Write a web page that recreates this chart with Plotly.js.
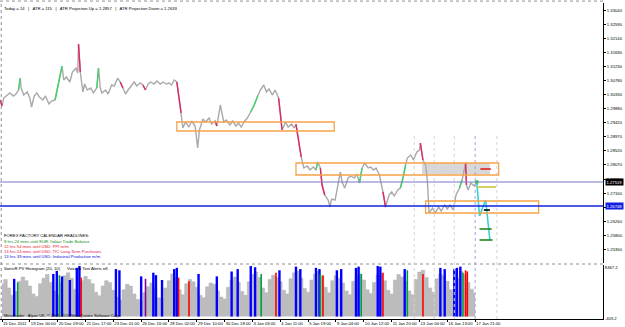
<!DOCTYPE html>
<html><head><meta charset="utf-8">
<script src="https://cdn.plot.ly/plotly-3.0.1.min.js"></script>
<style>html,body{margin:0;padding:0;background:#fff}#chart{width:625px;height:327px}</style>
</head><body><div id="chart"></div>
<script>
// ---- data (bar index = hourly bar number) ----
const priceIdx = [-2,0,2,6,9,13,16,19,21,22,25,29,32,34,37,40,43,47,50,54,57,61,64,66,69,71,74,78,81,85,87,88,89,90,93,95,98,102,105,109,111,113,115,119,122,126,129,133,136,139,142,145,149,152,155,159,162,165,168,171,175,178,182,185,189,192,195,198,201,203,206,208,211,215,218,222,225,227,231,234,238,241,245,247,251,255,258,262,265,269,272,275,279,282,286,290,294,297,301,304,307,311,314,318,320,322,326,329,333,336,338,341,344,347,351,354,358,361,363,366,368,371,375,377,379,383,386,389,391,394,398,401,405,408,411,414,417,421,424,427,430,434,438,441,445,448,451,455,458,461,464,466,470,473,477,480,481,484,487,489,491,495,498,502,505,509,512,515,519,522,526,529,533,534,536,539,543,546];
const priceClose = [1.30151,1.29958,1.30215,1.30311,1.30376,1.30280,1.30344,1.30472,1.30857,1.30536,1.30311,1.30408,1.30215,1.29926,1.30280,1.30376,1.30247,1.30151,1.30280,1.30022,1.30119,1.30151,1.30536,1.30793,1.31242,1.30793,1.30890,1.30729,1.31050,1.31178,1.31018,1.31949,1.31435,1.31050,1.30408,1.30665,1.30472,1.30536,1.30376,1.30536,1.31178,1.30536,1.30376,1.30472,1.30344,1.30633,1.30601,1.30857,1.30729,1.30536,1.30344,1.30472,1.30601,1.30729,1.30601,1.30697,1.30633,1.30472,1.30665,1.30729,1.30665,1.30761,1.30665,1.30729,1.30665,1.30697,1.30633,1.30793,1.30729,1.30311,1.29734,1.29252,1.29445,1.29284,1.29477,1.29316,1.28610,1.29188,1.29541,1.29445,1.29573,1.29380,1.29477,1.29316,1.29991,1.29445,1.29509,1.29348,1.29477,1.29316,1.29413,1.29284,1.29477,1.29573,1.29766,1.29991,1.30280,1.30472,1.30633,1.30408,1.30504,1.30311,1.30472,1.30215,1.29766,1.29188,1.29445,1.29284,1.29380,1.29252,1.29380,1.28771,1.28321,1.27968,1.28032,1.27904,1.28000,1.27904,1.28161,1.27968,1.27422,1.27101,1.26941,1.26716,1.26973,1.26941,1.27422,1.27840,1.27519,1.27326,1.27647,1.27711,1.27647,1.27775,1.27487,1.27968,1.28129,1.27968,1.28000,1.27904,1.27968,1.27743,1.27198,1.26716,1.27101,1.27198,1.27069,1.27262,1.27326,1.27647,1.28064,1.28289,1.28386,1.28225,1.28482,1.28546,1.28771,1.28225,1.28064,1.27583,1.26523,1.26684,1.26523,1.26716,1.26588,1.26780,1.26652,1.26780,1.26620,1.27101,1.27326,1.27583,1.28129,1.27422,1.27262,1.27487,1.27390,1.27519];
const greenSegs = [[19,21],[61,69],[109,111],[196,198],[286,294],[361,363],[411,414],[458,464],[526,529]];
const redSegs = [[-2,0],[88,90],[136,139],[162,165],[201,206],[245,247],[316,322],[338,344],[366,371],[436,441],[481,484],[533,534]];
const projIdx = [546,549,556,561];
const projPrice = [1.27487,1.26427,1.26941,1.25657];
const bidPrice = 1.27519;
const pivotPrice = 1.26748;
const boxStart = [201,338,487];
const boxEnd = [382,571,617];
const boxTop = [1.29445,1.28129,1.26909];
const boxBottom = [1.29156,1.27743,1.26523];
const zoneStart = 483, zoneEnd = 561, zoneTop = 1.28129, zoneBottom = 1.27775;
const levelStart = [550,546,554,549,549];
const levelEnd = [562,568,561,563,564];
const levelPrice = [1.27936,1.27358,1.26620,1.26010,1.25657];
const sessionIdx = [474,497,520,544,569];
const priceTicks = ['1.33040','1.32590','1.32140','1.31690','1.31230','1.30780','1.30330','1.29880','1.29420','1.28970','1.28520','1.28070','1.27610','1.27160','1.26710','1.26260','1.25800','1.25350','1.24900'];
const timeTickIdx = [0,32,64,96,128,160,192,224,256,288,320,352,384,416,448,480,512,544];
const timeTickText = ['15 Dec 2011','19 Dec 00:00','20 Dec 09:00','21 Dec 17:00','23 Dec 01:00','26 Dec 16:00','28 Dec 02:00','29 Dec 10:00','30 Dec 18:00','3 Jan 03:00','4 Jan 11:00','5 Jan 19:00','9 Jan 04:00','10 Jan 12:00','11 Jan 20:00','13 Jan 04:00','16 Jan 13:00','17 Jan 21:00'];
const volHeights = [5400,6100,4700,3500,4100,5800, 6500,5900,5000,3700,3300,5400, 6300,6900,5600,4200,3500,5600, 6700,7200,6300,4500,3800,5900, 6600,6100,5400,4000,3400,5000, 5900,5600,4300,3200,2700,4400, 5300,5000,3700,2800,2500,3900, 4900,5500,4700,3100,2900,4700, 5900,7000,6400,4400,3600,5400, 6100,5700,4800,3500,3100,4900, 5500,5300,4200,3200,2900,4800, 6000,6500,5600,4100,3500,5700, 6900,7300,6400,4700,3900,6100, 6800,6400,5700,4300,3700,6200, 7200,7500,6300,4600,4000,6000, 7000,7400,6600,4800,3900,5900, 6700,6300,5500,4200,3600,5800, 6600,7000,6000,4400,3800,5600, 6800,7100,5900,4300,3700,6000, 6900,6500,5700,4200,3600,6100, 7300,7600,6400,4700,4000,6200, 7000,6700,5800,4400,3900,6300, 7400,6900,5600,4500,3800];
const signalIdx = [14,18,59,63,66,69,78,86,89,91,131,135,160,165,174,177,184,198,201,203,215,226,247,264,271,286,291,298,315,319,338,343,361,365,366,369,385,390,407,410,413,432,435,438,463,466,484,504,509,520,523,527,530,533,535];
const signalVol = [6200,5600,7000,7500,6800,6600,6000,8000,8300,6400,7800,7600,6600,6200,7200,6800,6000,7800,8000,6400,5800,7000,6600,7400,7800,8300,8100,7000,7200,7600,8200,7800,8000,7800,7000,6800,7600,7800,8000,8200,7000,8300,8200,7200,7800,7600,7000,8000,7800,7800,8000,8200,7200,7600,7400];
const signalKind = ['b','g','b','b','g','b','b','b','b','r','b','b','b','p','b','b','b','b','b','r','r','b','b','b','b','b','b','g','r','b','b','b','b','b','g','r','b','b','b','b','g','b','b','r','b','g','r','b','b','b','b','b','g','r','r'];

// ---- build ----
const FONT = 'Liberation Sans, Arial, sans-serif';
const traces = [];
const histIdx = volHeights.map((_,i)=>i*4);
traces.push({x: histIdx, y: volHeights, type:'scatter', mode:'lines', line:{shape:'hvh', color:'#b0b0b0', width:0.5}, fill:'tozeroy', fillcolor:'#bcbcbc', xaxis:'x', yaxis:'y2', hoverinfo:'skip'});
const kindColor = {b:'#0000ff', g:'#00a040', r:'#ff0000', p:'#8000a0'};
const kindWidth = {b:2.4, g:1.6, r:1.6, p:1.6};
Object.keys(kindColor).forEach(k=>{
  const xs=[], ys=[];
  signalIdx.forEach((v,i)=>{ if(signalKind[i]===k){ xs.push(v,v,null); ys.push(0,signalVol[i],null); } });
  traces.push({x: xs, y: ys, type:'scatter', mode:'lines', line:{color:kindColor[k], width:kindWidth[k]}, connectgaps:false, xaxis:'x', yaxis:'y2', hoverinfo:'skip'});
});

traces.push({x: priceIdx, y: priceClose, type:'scatter', mode:'lines', line:{color:'#a9a9a9', width:1.4}, xaxis:'x', yaxis:'y', hoverinfo:'skip'});
function segTrace(seg, color){
  const xs=[], ys=[];
  priceIdx.forEach((v,i)=>{ if(v>=seg[0] && v<=seg[1]){ xs.push(v); ys.push(priceClose[i]); } });
  return {x: xs, y: ys, type:'scatter', mode:'lines', line:{color: color, width:1.4}, xaxis:'x', yaxis:'y', hoverinfo:'skip'};
}
greenSegs.forEach(s=>traces.push(segTrace(s,'#3ed46a')));
redSegs.forEach(s=>traces.push(segTrace(s,'#e0285a')));
traces.push({x: projIdx, y: projPrice, type:'scatter', mode:'lines', line:{color:'#35d0d8', width:1.6}, xaxis:'x', yaxis:'y', hoverinfo:'skip'});
traces.push({x:[priceIdx[priceIdx.length-1]], y:[bidPrice], type:'scatter', mode:'markers', marker:{color:'#30e040', size:4}, xaxis:'x', yaxis:'y', hoverinfo:'skip'});

const shapes = [];
shapes.push({type:'line', xref:'paper', yref:'paper', x0:0, x1:1, y0:1.003, y1:1.003, line:{color:'#909090', width:1, dash:'dot'}});
shapes.push({type:'line', xref:'paper', yref:'paper', x0:0.002, x1:0.002, y0:0, y1:1.003, line:{color:'#909090', width:1, dash:'dot'}});
shapes.push({type:'line', xref:'paper', yref:'paper', x0:0, x1:1, y0:0.1735, y1:0.1735, line:{color:'#909090', width:1, dash:'dot'}});
sessionIdx.forEach((v,i)=>shapes.push({type:'line', xref:'x', yref:'paper', x0:v, x1:v, y0:0, y1:(319-135)/317, line:{color: i===3?'#a0a0e0':'#d4d4d4', width:1, dash:'dot'}}));
shapes.push({type:'rect', xref:'x', yref:'y', x0:zoneStart, x1:zoneEnd, y0:zoneBottom, y1:zoneTop, fillcolor:'#d8d8d8', line:{width:0}, layer:'below'});
boxStart.forEach((s,i)=>shapes.push({type:'rect', xref:'x', yref:'y', x0:s, x1:boxEnd[i], y0:boxBottom[i], y1:boxTop[i], line:{color:'#f5a347', width:1.3}}));
shapes.push({type:'line', xref:'paper', yref:'y', x0:0, x1:1, y0:bidPrice, y1:bidPrice, line:{color:'#7878c8', width:1}});
shapes.push({type:'line', xref:'paper', yref:'y', x0:0, x1:1, y0:pivotPrice, y1:pivotPrice, line:{color:'#1020e0', width:1.4}});
const levelColor = ['#e02020','#c8c832','#000000','#208a20','#208a20'];
levelStart.forEach((s,i)=>shapes.push({type:'line', xref:'x', yref:'y', x0:s, x1:levelEnd[i], y0:levelPrice[i], y1:levelPrice[i], line:{color:levelColor[i], width:1.6}}));

const annotations = [];
annotations.push({xref:'paper', yref:'paper', x:0.004, y:0.995, xanchor:'left', yanchor:'top', showarrow:false, text:'Today = 14   |   ATR = 115   |   ATR Projection Up = 1.2857   |   ATR Projection Down = 1.2633', font:{size:4.2, color:'#000'}});
const cal = [['FOREX FACTORY CALENDAR HEADLINES:','#000000'],['8 hrs 24 mins until EUR: Italian Trade Balance','#109010'],['12 hrs 54 mins until USD: PPI m/m','#e02020'],['13 hrs 24 mins until USD: TIC Long-Term Purchases','#e01050'],['13 hrs 39 mins until USD: Industrial Production m/m','#1010e0']];
const calY = [235,241,246,251,256];
cal.forEach((c,i)=>annotations.push({xref:'paper', yref:'paper', x:0.004, y:(319-calY[i])/317, xanchor:'left', yanchor:'middle', showarrow:false, text:c[0], font:{size:4.2, color:c[1]}}));
annotations.push({xref:'paper', yref:'paper', x:0.004, y:(319-268)/317, xanchor:'left', yanchor:'middle', showarrow:false, text:'SonicR PV Histogram (20, 10)      Voice & Text Alerts off.', font:{size:4.2, color:'#000'}});
annotations.push({xref:'paper', yref:'paper', x:0.004, y:(319-315)/317, xanchor:'left', yanchor:'middle', showarrow:false, text:'MetaTrader - Alpari UK, © 2001-2011 MetaQuotes Software Corp.', font:{size:4, color:'#000'}});
annotations.push({xref:'paper', yref:'y', x:1.003, y:bidPrice, xanchor:'left', yanchor:'middle', showarrow:false, text:bidPrice.toFixed(5), bgcolor:'#000', font:{size:4.2, color:'#fff'}, borderpad:0.5});
annotations.push({xref:'paper', yref:'y', x:1.003, y:pivotPrice, xanchor:'left', yanchor:'middle', showarrow:false, text:pivotPrice.toFixed(5), bgcolor:'#1020e0', font:{size:4.2, color:'#fff'}, borderpad:0.5});

const layout = {
  width:625, height:327, margin:{l:0, r:22, t:2, b:8}, paper_bgcolor:'#fff', plot_bgcolor:'#fff', showlegend:false,
  font:{family:FONT, size:4.2, color:'#000'},
  xaxis:{range:[-2.3,691], anchor:'y2', showgrid:false, zeroline:false, tickmode:'array', tickvals:timeTickIdx, ticktext:timeTickText, tickangle:0, ticks:'outside', ticklen:2, tickcolor:'#000', ticklabelposition:'outside right', showline:true, linecolor:'#000', linewidth:1, tickfont:{size:4.2}},
  yaxis:{domain:[0.1767,0.9968], range:[1.24919,1.33265], side:'right', showgrid:false, zeroline:false, tickmode:'array', tickvals:priceTicks.map(Number), ticktext:priceTicks, ticks:'outside', ticklen:2, tickcolor:'#000', showline:true, linecolor:'#000', linewidth:1, tickfont:{size:4.2}},
  yaxis2:{domain:[0,0.1703], range:[-405.2,8467.2], side:'right', showgrid:false, zeroline:false, tickmode:'array', tickvals:[8000,-405.2], ticktext:['8467.2','-405.2'], ticks:'', showline:true, linecolor:'#000', linewidth:1, tickfont:{size:4.2}},
  shapes: shapes, annotations: annotations
};
Plotly.newPlot('chart', traces, layout, {staticPlot:true, displayModeBar:false});
</script></body></html>
